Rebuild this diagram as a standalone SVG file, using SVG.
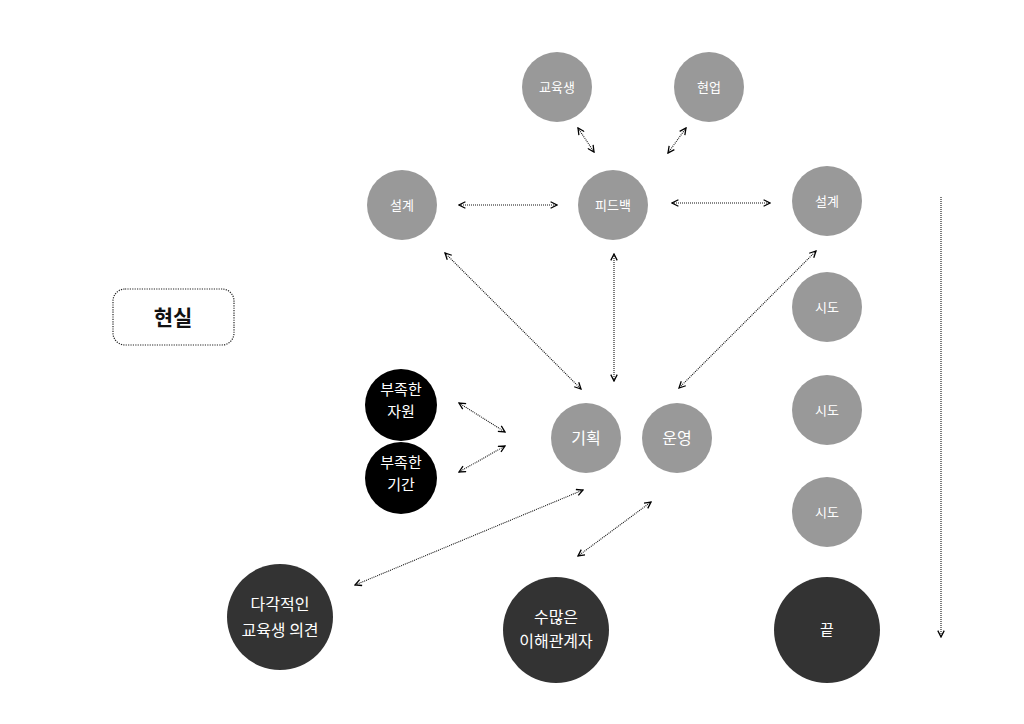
<svg xmlns="http://www.w3.org/2000/svg" width="1024" height="724" viewBox="0 0 1024 724">
<defs>
<marker id="ah" viewBox="0 0 10 10" refX="9" refY="5" markerWidth="8" markerHeight="8" markerUnits="userSpaceOnUse" orient="auto-start-reverse">
<path d="M1,1 L9,5 L1,9" fill="none" stroke="#000" stroke-width="1.6"/>
</marker>
<style>
.g{fill:#999999}
.b{fill:#000000}
.d{fill:#333333}
.t{fill:#ffffff;font-family:"Noto Sans CJK KR","Noto Sans",sans-serif;text-anchor:middle}
.s{font-size:13px}
.m{font-size:16px}
.k{font-size:15px}
.c line{stroke:#111;stroke-width:1.1;stroke-dasharray:1 1;fill:none;marker-start:url(#ah);marker-end:url(#ah)}
</style>
</defs>
<rect width="1024" height="724" fill="#ffffff"/>
<g id="reality">
<rect x="113" y="289" width="121" height="56" rx="12" fill="none" stroke="#222" stroke-width="1.2" stroke-dasharray="1.2 1.2"/>
<text x="173" y="325" font-family="'Noto Sans CJK KR','Noto Sans',sans-serif" font-size="21" font-weight="bold" text-anchor="middle" fill="#111">현실</text>
</g>
<g id="n-student"><circle class="g" cx="557" cy="87" r="35"/><text class="t s" x="557" y="92">교육생</text></g>
<g id="n-field"><circle class="g" cx="709" cy="87" r="35"/><text class="t s" x="709" y="92">현업</text></g>
<g id="n-design1"><circle class="g" cx="402" cy="205" r="35"/><text class="t s" x="402" y="210">설계</text></g>
<g id="n-feedback"><circle class="g" cx="613" cy="205" r="35"/><text class="t s" x="613" y="210">피드백</text></g>
<g id="n-design2"><circle class="g" cx="827" cy="201" r="35"/><text class="t s" x="827" y="206">설계</text></g>
<g id="n-try1"><circle class="g" cx="827" cy="307" r="35"/><text class="t s" x="827" y="312">시도</text></g>
<g id="n-try2"><circle class="g" cx="827" cy="410" r="35"/><text class="t s" x="827" y="415">시도</text></g>
<g id="n-try3"><circle class="g" cx="827" cy="512" r="35"/><text class="t s" x="827" y="517">시도</text></g>
<g id="n-end"><circle class="d" cx="827" cy="630" r="53"/><text class="t" font-size="15" x="827" y="635">끝</text></g>
<g id="n-plan"><circle class="g" cx="586" cy="438" r="35"/><text class="t m" x="586" y="444">기획</text></g>
<g id="n-ops"><circle class="g" cx="677" cy="438" r="35"/><text class="t m" x="677" y="444">운영</text></g>
<g id="n-resource"><circle class="b" cx="401" cy="405" r="36"/><text class="t k" x="401" y="395">부족한</text><text class="t k" x="401" y="417">자원</text></g>
<g id="n-time"><circle class="b" cx="401" cy="478" r="36"/><text class="t k" x="401" y="468">부족한</text><text class="t k" x="401" y="490">기간</text></g>
<g id="n-opinions"><circle class="d" cx="280" cy="617" r="53"/><text class="t m" x="280" y="610">다각적인</text><text class="t m" x="280" y="636">교육생 의견</text></g>
<g id="n-stake"><circle class="d" cx="556" cy="630" r="53"/><text class="t m" x="556" y="623">수많은</text><text class="t m" x="556" y="647">이해관계자</text></g>
<g id="connectors" class="c">
<line x1="578" y1="128" x2="594" y2="152"/>
<line x1="686" y1="128" x2="668" y2="153"/>
<line x1="459" y1="205" x2="557" y2="205"/>
<line x1="672" y1="203" x2="770" y2="203"/>
<line x1="445" y1="253" x2="581" y2="389"/>
<line x1="614" y1="254" x2="614" y2="381"/>
<line x1="816" y1="251" x2="679" y2="388"/>
<line x1="459" y1="403" x2="505" y2="432"/>
<line x1="459" y1="472" x2="505" y2="446"/>
<line x1="355" y1="585" x2="583" y2="490"/>
<line x1="578" y1="556" x2="651" y2="502"/>
<line x1="941" y1="197" x2="941" y2="637" style="marker-start:none"/>
</g>
</svg>
